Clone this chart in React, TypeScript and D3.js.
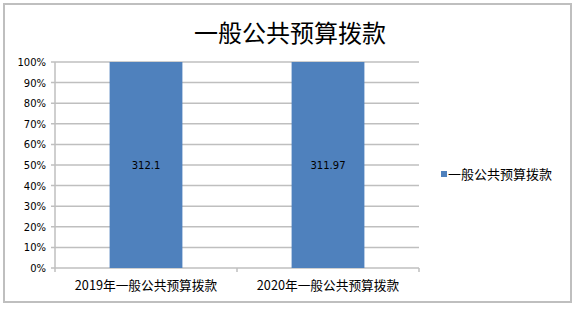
import React from "react";
import * as d3 from "d3";

const categories = ["2019年一般公共预算拨款", "2020年一般公共预算拨款"];
const values = [312.1, 311.97];
const valueLabels = ["312.1", "311.97"];
const yTicks = [0, 0.1, 0.2, 0.3, 0.4, 0.5, 0.6, 0.7, 0.8, 0.9, 1];
const title = "一般公共预算拨款";
const seriesName = "一般公共预算拨款";

export default function App() {
  const W = 578, H = 309;
  const left = 55, right = 419, top = 62, bottom = 268;
  const x = d3.scaleBand().domain(categories).range([left, right]).paddingInner(0.6).paddingOuter(0.3);
  const xb = d3.scaleBand().domain(categories).range([left, right]);
  const y = d3.scaleLinear().domain([0, 1]).range([bottom, top]);
  const fmt = d3.format(".0%");
  const grid = "#bfbfbf";
  const color = "#4f81bd";
  return (
    <svg width={W} height={H} style={{ position: "absolute", left: 0, top: 0 }}>
      <rect x={4} y={4} width={567} height={298} fill="#fff" stroke={grid} strokeWidth={2} />
      <text x={290} y={42} textAnchor="middle" fontFamily="'Noto Sans CJK SC'" fontSize={24} fill="#000">{title}</text>
      {yTicks.map((t) => (
        <g key={t}>
          <line x1={left - 4} x2={right} y1={y(t)} y2={y(t)} stroke={grid} strokeWidth={1.5} />
          <text x={46} y={y(t) + 4} textAnchor="end" fontFamily="'DejaVu Sans'" fontSize={10} fill="#000">{fmt(t)}</text>
        </g>
      ))}
      <line x1={left} x2={left} y1={top} y2={bottom} stroke={grid} strokeWidth={1.5} />
      {categories.map((c, i) => (
        <g key={c}>
          <rect x={x(c)} y={y(1)} width={x.bandwidth()} height={y(0) - y(1)} fill={color} />
          <text x={x(c)! + x.bandwidth() / 2} y={y(0.5) + 4} textAnchor="middle" fontFamily="'DejaVu Sans'" fontSize={10} fill="#000">{valueLabels[i]}</text>
          <text x={xb(c)! + xb.bandwidth() / 2} y={290} textAnchor="middle" fontFamily="'Noto Sans CJK SC'" fontSize={12.7} fill="#000">{c}</text>
        </g>
      ))}
      {[0, 1, 2].map((i) => (
        <line key={i} x1={left + i * xb.bandwidth()} x2={left + i * xb.bandwidth()} y1={bottom} y2={bottom + 4} stroke={grid} strokeWidth={1.5} />
      ))}
      <rect x={441} y={171} width={6} height={6} fill={color} />
      <text x={448} y={179} fontFamily="'Noto Sans CJK SC'" fontSize={13} fill="#000">{seriesName}</text>
    </svg>
  );
}
